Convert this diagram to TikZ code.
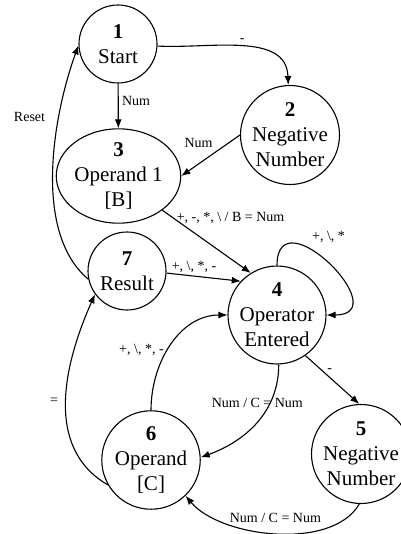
\documentclass[tikz,border=0pt]{standalone}
\usepackage{fontspec}
\setmainfont{Liberation Serif}
\usetikzlibrary{arrows.meta,shapes.geometric}
\tikzstyle{state}=[circle,draw,line width=1.1pt,inner sep=0pt,align=center,font=\fontsize{21}{25}\selectfont]
\tikzstyle{edge} = [draw,line width=1.1pt,-{Latex[length=9pt,width=7pt]}]
\tikzstyle{weight} = [font=\fontsize{14}{16}\selectfont]

\begin{document}
\begin{tikzpicture}[x=1pt,y=1pt]
   \useasboundingbox (0,0) rectangle (400,-534);

    % states
    \foreach \pos/\name/\num/\txt/\size in {{(118,-44)/n1/1/{Start}/78}, {(290,-135)/n2/2/{Negative\\Number}/92},
        {(127,-271)/n7/7/{Result}/78}, {(277,-315)/n4/4/{Operator\\Entered}/92},
        {(151,-460)/n6/6/{Operand\\{[C]}}/90}, {(361,-454)/n5/5/{Negative\\Number}/92}}
    	\node[state,minimum size=\size pt] (\name) at \pos {\textbf{\num}\\\txt};
    \node[state,ellipse,minimum width=103pt,minimum height=82pt] (n3) at (118.5,-176) {\textbf{3}\\Operand 1\\{[B]}};

    % transitions
    \path[edge] (n1) to[out=-3,in=92] node[weight,pos=0.5,above] {-} (n2);
    \path[edge] (n1) -- node[weight,pos=0.4,right] {Num} (n3);
    \path[edge] (n2.west) -- node[weight,pos=0.4,above left] {Num} (n3.east);
    \path[edge] (n3.-38) -- node[weight,pos=0.12,anchor=west] {+, -, *, \textbackslash{} / B = Num} (n4.122);
    \path[edge] (n7.-3) -- node[weight,pos=0.37,above] {+, \textbackslash, *, -} (n4.137);
    \path[edge] (n4.90) to[out=90,in=0,looseness=2.6] node[weight,pos=0.5,above=17pt] {+, \textbackslash, *} (n4.0);
    \path[edge] (n4.-55) -- node[weight,pos=0.3,right=2pt] {-} (n5.92);
    \path[edge] (n4.-88) to[out=-90,in=20] node[weight,pos=0.3,xshift=-13pt] {Num / C = Num} (n6.3);
    \path[edge] (n6.90) to[out=90,in=180] node[weight,pos=0.45,left] {+, \textbackslash, *, -} (n4.180);
    \path[edge] (n5.-92) to[out=-120,in=-50,looseness=0.8] node[weight,pos=0.5,above=7pt] {Num / C = Num} (n6.-46);
    \path[edge] (n6.210) to[out=150,in=-114] node[weight,pos=0.5,left=4pt] {=} (n7.216);
    \path[edge] (n7.192) to[out=140,in=-110,looseness=0.8] node[weight,pos=0.7,left=10pt] {Reset} (n1.182);

\end{tikzpicture}
\end{document}
